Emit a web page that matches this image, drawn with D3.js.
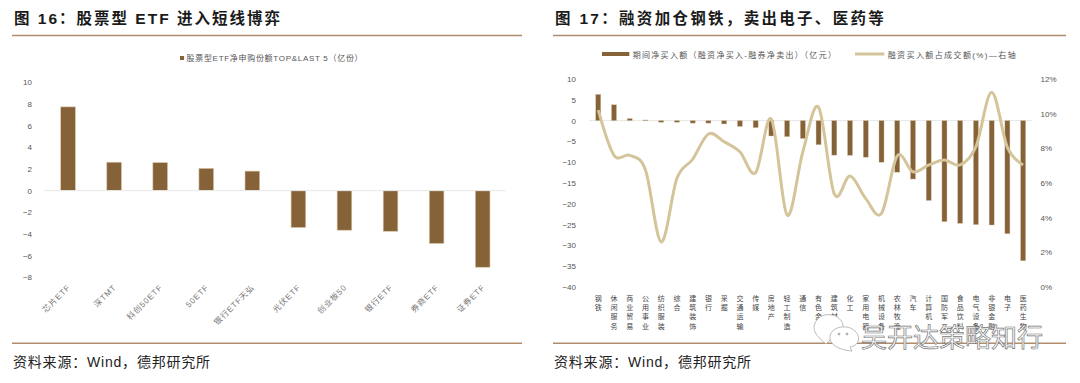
<!DOCTYPE html>
<html>
<head>
<meta charset="utf-8">
<script src="https://cdnjs.cloudflare.com/ajax/libs/d3/7.8.5/d3.min.js"></script>
<style>
    html, body { margin: 0; padding: 0; background: #fff; }
    svg { display: block; }
    text { font-family: "Liberation Sans", "Noto Sans CJK SC", sans-serif; }
</style>
</head>
<body>
<svg id="chartsvg" width="1080" height="383"></svg>
<script>
// left chart
const etfNames = ["芯片ETF", "深TMT", "科创50ETF", "50ETF", "银行ETF天弘", "光伏ETF", "创业板50", "银行ETF", "券商ETF", "证券ETF"];
const etfValues = [7.73, 2.62, 2.58, 2.05, 1.8, -3.4, -3.65, -3.75, -4.87, -7.07];
const etfTicks = [10, 8, 6, 4, 2, 0, -2, -4, -6, -8];

// right chart
const sectors = ["钢铁", "休闲服务", "商业贸易", "公用事业", "纺织服装", "综合", "建筑装饰", "银行", "采掘", "交通运输",
    "传媒", "房地产", "轻工制造", "通信", "有色金属", "建筑材料", "化工", "家用电器", "机械设备", "农林牧渔",
    "汽车", "计算机", "国防军工", "食品饮料", "电气设备", "非银金融", "电子", "医药生物"];
const netBuy = [6.3, 3.8, 0.5, 0.15, -0.4, -0.4, -0.6, -0.6, -0.8, -1.4,
    -1.7, -3.7, -3.85, -4.3, -5.8, -8.3, -8.35, -8.8, -10.0, -12.4,
    -14.05, -19.2, -24.3, -24.7, -25.0, -25.1, -27.2, -33.7];
const buyShare = [10.2, 7.6, 7.6, 6.75, 2.6, 6.27, 7.37, 8.83, 8.38, 7.8,
    6.6, 9.69, 4.15, 7.8, 10.37, 5.37, 6.4, 5.1, 4.25, 7.56,
    6.65, 7.04, 7.33, 7.04, 8.1, 11.23, 8.06, 7.04];
const netBuyTicks = [10, 5, 0, -5, -10, -15, -20, -25, -30, -35, -40];
const shareTicks = [0, 2, 4, 6, 8, 10, 12];

const BAR_COLOR = "#866238";
const BAR_EDGE = "#d3c2a4";
const LINE_COLOR = "#d4c49a";
const RULE_COLOR = "#b08c6c";
const ZERO_COLOR = "#e8e8e8";
const TICK_COLOR = "#555";

const svg = d3.select("#chartsvg");

function addFrame(x0, x1, title, spacing) {
    svg.append("text").attr("x", x0 + 2).attr("y", 24)
        .attr("font-size", 15.5).attr("font-weight", 700).attr("letter-spacing", spacing)
        .attr("fill", "#1a1a1a").text(title);
    svg.append("line").attr("x1", x0).attr("x2", x1).attr("y1", 35.5).attr("y2", 35.5)
        .attr("stroke", RULE_COLOR).attr("stroke-width", 1.4);
    svg.append("line").attr("x1", x0).attr("x2", x1).attr("y1", 343.3).attr("y2", 343.3)
        .attr("stroke", RULE_COLOR).attr("stroke-width", 1.4);
    svg.append("text").attr("x", x0 + 1).attr("y", 367)
        .attr("font-size", 14).attr("letter-spacing", 0.8).attr("fill", "#222")
        .text("资料来源：Wind，德邦研究所");
}

function styleAxis(g) {
    g.select(".domain").remove();
    g.selectAll(".tick line").remove();
    g.selectAll("text").attr("font-size", 8).attr("fill", TICK_COLOR)
        .style("font-family", '"Liberation Sans", "Noto Sans CJK SC", sans-serif');
}

addFrame(12, 522, "图 16：股票型 ETF 进入短线博弈", 2);
addFrame(553, 1066, "图 17：融资加仓钢铁，卖出电子、医药等", 2.3);

// ---- left: ETF bars
const x1 = d3.scaleBand().domain(etfNames).range([45, 505.7]).paddingInner(0.683).paddingOuter(0.3415);
const y1 = d3.scaleLinear().domain([-8, 10]).range([277.3, 82.3]);

svg.append("g").attr("transform", "translate(35,0)")
    .call(d3.axisLeft(y1).tickValues(etfTicks).tickSize(0).tickFormat(d => d < 0 ? "−" + (-d) : d))
    .call(styleAxis);

svg.append("g").selectAll("rect").data(etfValues).enter().append("rect")
    .attr("x", (d, i) => x1(etfNames[i]))
    .attr("y", d => y1(Math.max(d, 0)))
    .attr("width", x1.bandwidth())
    .attr("height", d => Math.abs(y1(d) - y1(0)))
    .attr("fill", BAR_COLOR)
    .attr("stroke", BAR_EDGE).attr("stroke-width", 0.6);

svg.append("line").attr("x1", 44.3).attr("x2", 506).attr("y1", y1(0)).attr("y2", y1(0))
    .attr("stroke", ZERO_COLOR).attr("stroke-width", 1);

svg.append("g").attr("transform", "translate(0,285)")
    .call(d3.axisBottom(x1).tickSize(0))
    .call(styleAxis)
    .selectAll("text")
    .attr("text-anchor", "end").attr("fill", "#777")
    .attr("letter-spacing", 0.9)
    .attr("dy", "0.5em").attr("y", 0).attr("x", 0)
    .attr("transform", "rotate(-45)");

// legend left
svg.append("rect").attr("x", 180).attr("y", 56).attr("width", 4).attr("height", 4).attr("fill", BAR_COLOR);
svg.append("text").attr("x", 186.5).attr("y", 61).attr("font-size", 8).attr("fill", "#555")
    .attr("letter-spacing", 0.7).text("股票型ETF净申购份额TOP&LAST 5（亿份）");

// ---- right: sector bars + line
const x2 = d3.scaleBand().domain(sectors).range([590.4, 1031]).paddingInner(0.68).paddingOuter(0.34);
const y2 = d3.scaleLinear().domain([-40, 10]).range([287, 79]);
const y3 = d3.scaleLinear().domain([0, 12]).range([287, 79]);

svg.append("g").attr("transform", "translate(579,0)")
    .call(d3.axisLeft(y2).tickValues(netBuyTicks).tickSize(0))
    .call(styleAxis);

svg.append("g").attr("transform", "translate(1037.5,0)")
    .call(d3.axisRight(y3).tickValues(shareTicks).tickSize(0).tickFormat(d => d + "%"))
    .call(styleAxis);

svg.append("line").attr("x1", 589).attr("x2", 1032).attr("y1", y2(0)).attr("y2", y2(0))
    .attr("stroke", ZERO_COLOR).attr("stroke-width", 1);

svg.append("g").selectAll("rect").data(netBuy).enter().append("rect")
    .attr("x", (d, i) => x2(sectors[i]))
    .attr("y", d => y2(Math.max(d, 0)))
    .attr("width", x2.bandwidth())
    .attr("height", d => Math.abs(y2(d) - y2(0)))
    .attr("fill", BAR_COLOR)
    .attr("stroke", BAR_EDGE).attr("stroke-width", 0.4);

const shareLine = d3.line()
    .x((d, i) => x2(sectors[i]) + x2.bandwidth() / 2)
    .y(d => y3(d))
    .curve(d3.curveCardinal.tension(0));

svg.append("path").datum(buyShare)
    .attr("d", shareLine)
    .attr("fill", "none")
    .attr("stroke", LINE_COLOR)
    .attr("stroke-width", 3);

// vertical category labels, one tspan per character
svg.append("g").attr("transform", "translate(0,294)")
    .call(d3.axisBottom(x2).tickSize(0))
    .call(styleAxis)
    .selectAll("text")
    .attr("y", 0).attr("dy", 0)
    .attr("font-size", 7)
    .attr("fill", "#444")
    .attr("text-anchor", "middle")
    .each(function (d) {
        const label = d3.select(this).text(null);
        Array.from(d).forEach((ch, i) => {
            label.append("tspan").attr("x", 0).attr("y", 6.5 + i * 9.4).text(ch);
        });
    });

// legend right
svg.append("rect").attr("x", 602).attr("y", 52).attr("width", 27.3).attr("height", 4).attr("fill", BAR_COLOR);
svg.append("text").attr("x", 632.7).attr("y", 57.5).attr("font-size", 8).attr("fill", "#555")
    .attr("letter-spacing", 1.3).text("期间净买入额（融资净买入-融券净卖出）（亿元）");
svg.append("line").attr("x1", 855).attr("x2", 884.3).attr("y1", 54).attr("y2", 54)
    .attr("stroke", LINE_COLOR).attr("stroke-width", 3);
svg.append("text").attr("x", 887.7).attr("y", 57.5).attr("font-size", 8).attr("fill", "#555")
    .attr("letter-spacing", 1.4).text("融资买入额占成交额(%)—右轴");

// watermark
const mark = svg.append("g").attr("fill", "#fff").attr("stroke", "#aaa").attr("stroke-width", 0.8);
mark.append("path").attr("d", "M826,344 C816,336 812,330 815,323 C820,312 836,312 842,322 C846,331 838,340 830,340 Z");
mark.append("path").attr("d", "M852,351 C838,350 829,344 830,336 C832,326 848,324 855,331 C862,338 858,346 850,347 Z");
mark.append("circle").attr("cx", 839).attr("cy", 334).attr("r", 1).attr("fill", "#aaa");
mark.append("circle").attr("cx", 847).attr("cy", 334).attr("r", 1).attr("fill", "#aaa");
svg.append("text").attr("x", 861).attr("y", 347).attr("font-size", 26)
    .attr("fill", "#fff").attr("stroke", "#777").attr("stroke-width", 0.7)
    .text("吴开达策略知行");
</script>
</body>
</html>
